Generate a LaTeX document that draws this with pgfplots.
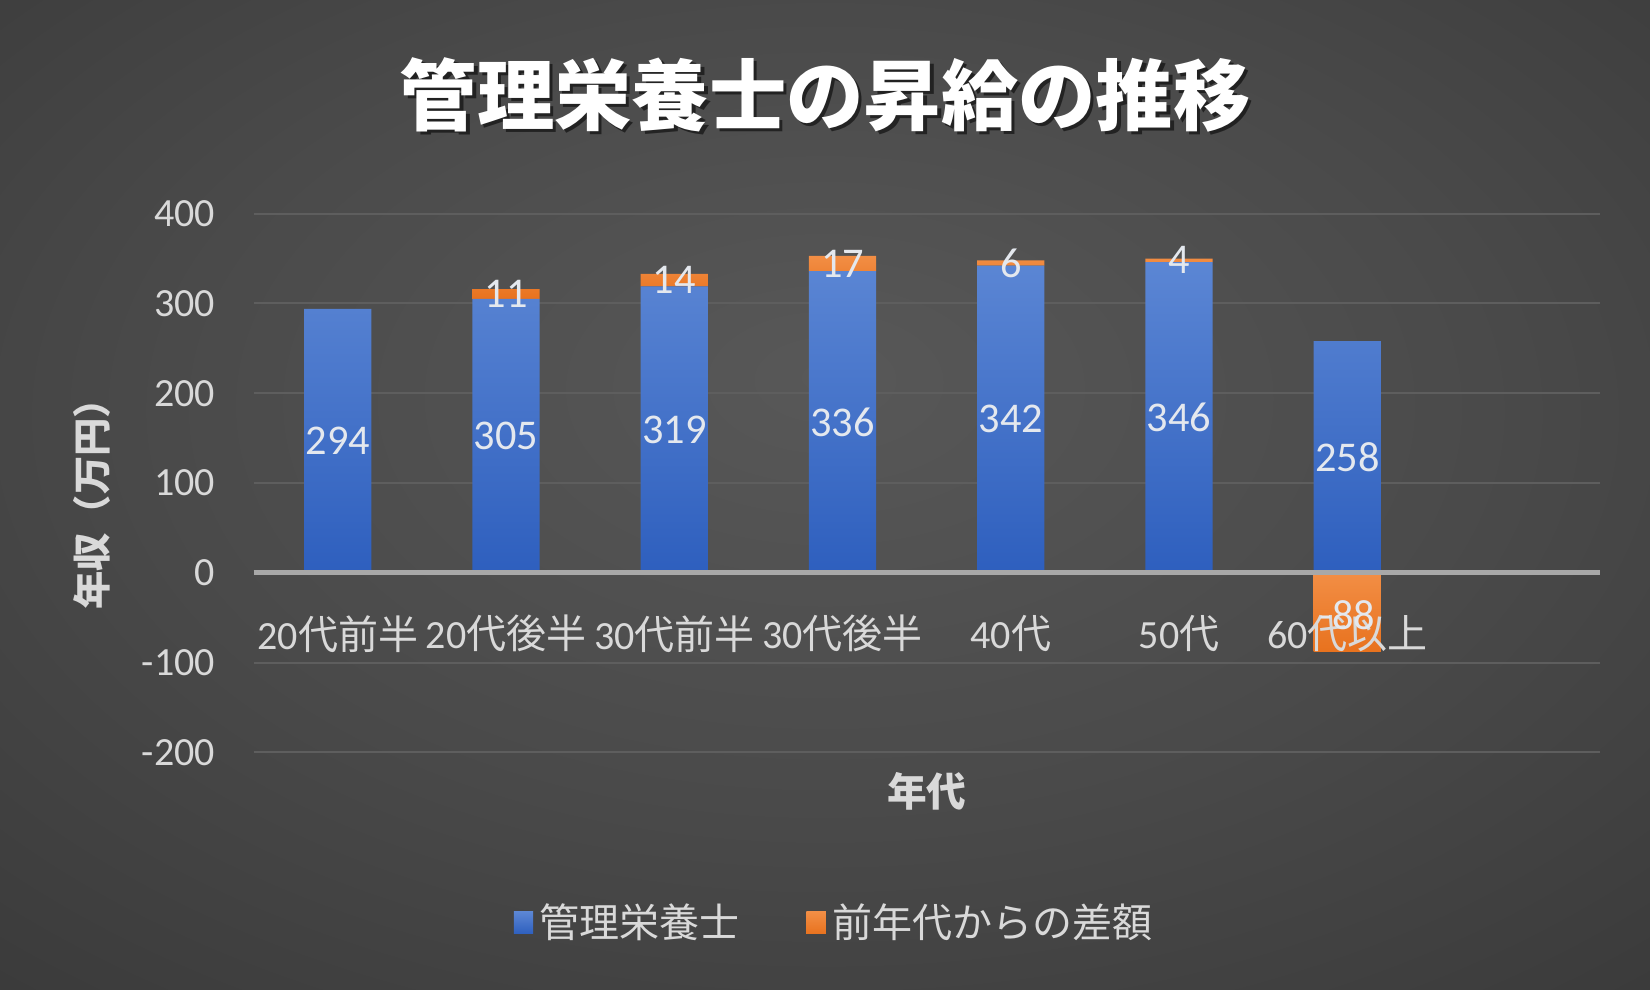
\documentclass[border=0pt]{standalone}
\usepackage{pgfplots}
\pgfplotsset{compat=1.18}
\usepackage{fontspec}
\setmainfont{Carlito}
\newfontfamily\jp{Noto Sans CJK JP}
\definecolor{bgin}{HTML}{585858}
\definecolor{bgmid}{HTML}{4A4A4A}
\definecolor{bgout}{HTML}{303030}
\definecolor{bgcorner}{HTML}{262626}
\definecolor{gridc}{HTML}{5E5E5E}
\definecolor{zeroc}{HTML}{A8A8A8}
\definecolor{tickc}{HTML}{D9D9D9}
\definecolor{labc}{HTML}{E4E8EE}
\definecolor{bluetop}{HTML}{5B86D4}
\definecolor{bluebot}{HTML}{2E5FBE}
\definecolor{bluel}{HTML}{3E6CC8}
\definecolor{orgtop}{HTML}{F28E45}
\definecolor{orgbot}{HTML}{E8721E}
\definecolor{orgl}{HTML}{ED7D31}
\pgfdeclareradialshading{bgshade}{\pgfpoint{0bp}{6bp}}{color(0bp)=(bgin); color(20bp)=(bgmid); color(50bp)=(bgout); color(72bp)=(bgcorner)}
\begin{document}
\begin{tikzpicture}
\shade[shading=bgshade] (0,0) rectangle (495pt,297pt);
\node[text=black, opacity=0.55, font=\jp\bfseries\fontsize{23.2}{28}\selectfont] at (248.5pt,267.6pt) {管理栄養士の昇給の推移};
\node[text=white, font=\jp\bfseries\fontsize{23.2}{28}\selectfont] at (247.5pt,268.6pt) {管理栄養士の昇給の推移};
\begin{axis}[
  at={(76.1pt,71.3pt)}, anchor=south west,
  scale only axis, width=403.8pt, height=161.6pt,
  xmin=-0.5, xmax=7.5, ymin=-200, ymax=400,
  ybar stacked, bar width=20.2pt,
  xtick=\empty,
  ytick={-200,-100,...,400},
  ymajorgrids, grid style={gridc, line width=0.6pt},
  axis line style={draw=none},
  major tick length=0pt,
  tick label style={text=tickc, font=\fontsize{12}{14}\selectfont},
  /pgf/number format/assume math mode=true,
  yticklabel style={anchor=east, inner sep=0pt, xshift=-11.4pt},
  xlabel={{\jp\bfseries 年代}},
  ylabel={{\jp\bfseries 年収（万円）}},
  every axis x label/.style={at={(axis description cs:0.5,-0.0724)}, anchor=center, text=tickc, font=\fontsize{11.9}{14}\selectfont},
  every axis y label/.style={at={(axis description cs:-0.1204,0.478)}, anchor=center, rotate=90, text=tickc, font=\fontsize{11.5}{14}\selectfont},
  point meta=rawy,
  nodes near coords={\pgfmathfloatifflags{\pgfplotspointmeta}{0}{}{\pgfmathprintnumber{\pgfplotspointmeta}}},
  every node near coord/.append style={anchor=center, inner sep=0pt, text=labc, font=\fontsize{12.7}{14}\selectfont},
  legend style={at={(axis description cs:0.433,-0.3168)}, anchor=center, draw=none, fill=none, text=tickc, font=\jp\fontsize{12}{14}\selectfont, legend columns=2, /tikz/every even column/.append style={column sep=18pt}},
  legend cell align=left,
]
\addplot[draw=none, top color=bluetop, bottom color=bluebot,
  legend image code/.code={\fill[bluel] (0pt,-3.3pt) rectangle (5.8pt,3.3pt);}]
  coordinates {(0,294) (1,305) (2,319) (3,336) (4,342) (5,346) (6,258)};
\addlegendentry{管理栄養士}
\addplot[draw=none, top color=orgtop, bottom color=orgbot,
  legend image code/.code={\fill[orgl] (0pt,-3.3pt) rectangle (5.8pt,3.3pt);}]
  coordinates {(0,0) (1,11) (2,14) (3,17) (4,6) (5,4) (6,0)};
\addlegendentry{前年代からの差額}
\end{axis}
\begin{axis}[
  at={(76.1pt,71.3pt)}, anchor=south west,
  scale only axis, width=403.8pt, height=161.6pt,
  xmin=-0.5, xmax=7.5, ymin=-200, ymax=400,
  axis x line*=middle, axis y line=none,
  xtick={0,...,6},
  xticklabels={20{\jp 代前半},20{\jp 代後半},30{\jp 代前半},30{\jp 代後半},40{\jp 代},50{\jp 代},60{\jp 代以上}},
  ytick=\empty,
  major tick length=0pt,
  tick label style={text=tickc, font=\fontsize{12}{14}\selectfont},
  xticklabel style={anchor=center, inner sep=0pt, yshift=-18.3pt},
  axis line style={zeroc, line width=1.5pt},
  axis on top,
  /pgf/number format/assume math mode=true,
  visualization depends on=rawy \as \rawy,
  nodes near coords,
  every node near coord/.append style={anchor=center, inner sep=0pt, shift={(axis direction cs:0,-\rawy/2)}, yshift=-1pt, text=labc, font=\fontsize{12.7}{14}\selectfont},
]
\addplot[ybar, bar width=20.2pt, bar shift=0pt, draw=none, top color=orgtop, bottom color=orgbot, forget plot]
  coordinates {(6,-88)};
\end{axis}
\end{tikzpicture}
\end{document}
